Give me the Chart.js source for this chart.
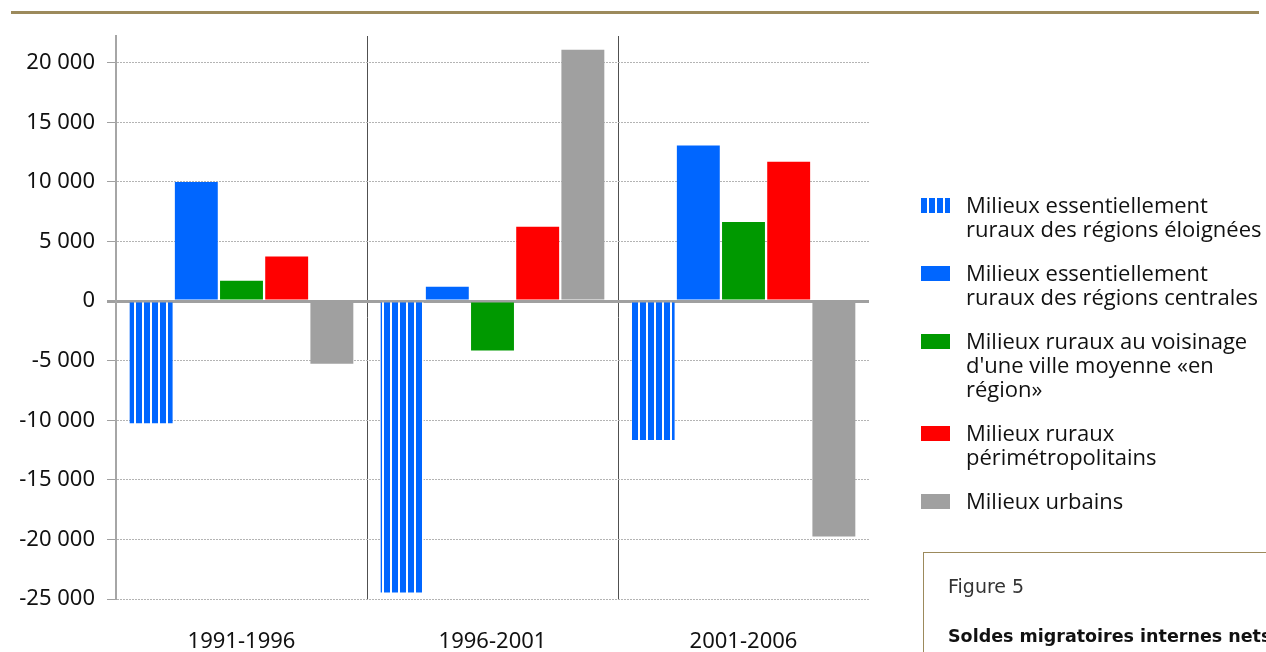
<!DOCTYPE html>
<html>
<head>
<meta charset="utf-8">
<script src="https://cdn.jsdelivr.net/npm/chart.js@4/dist/chart.umd.min.js"></script>
<style>
  html, body { margin: 0; padding: 0; background: #fff; }
  #wrap { position: relative; width: 1266px; height: 652px; overflow: hidden; }
  #topline { position: absolute; left: 11px; top: 11px; width: 1248px; height: 3px; background: #9c8a5c; }
  #chart { position: absolute; left: 0; top: 0; }
  #legend { position: absolute; left: 921px; top: 192px; font-family: "Open Sans", "Noto Sans", sans-serif; font-size: 22px; color: #111; }
  .item { position: relative; padding-left: 45px; line-height: 24px; margin-bottom: 20px; white-space: nowrap; }
  .sw { position: absolute; left: 0; top: 6px; width: 29px; height: 15px; }
  #figbox { position: absolute; left: 923px; top: 552px; width: 400px; height: 200px; border-left: 1px solid #9c8a5c; border-top: 1px solid #9c8a5c; }
  #figbox .num { position: absolute; left: 24px; top: 22px; font-family: "DejaVu Sans", sans-serif; font-size: 19px; color: #333; }
  #figbox .ttl { position: absolute; left: 24px; top: 73px; font-family: "DejaVu Sans", sans-serif; font-weight: bold; font-size: 17.5px; color: #111; white-space: nowrap; }
</style>
</head>
<body>
<div id="wrap">
  <div id="topline"></div>
  <canvas id="chart" width="1266" height="652"></canvas>
  <div id="legend"></div>
  <div id="figbox">
    <div class="num">Figure 5</div>
    <div class="ttl">Soldes migratoires internes nets</div>
  </div>
</div>
<script>
// periods on the x axis
const periods = ["1991-1996", "1996-2001", "2001-2006"];

// series names
const seriesNames = [
  "Milieux essentiellement ruraux des régions éloignées",
  "Milieux essentiellement ruraux des régions centrales",
  "Milieux ruraux au voisinage d'une ville moyenne «en région»",
  "Milieux ruraux périmétropolitains",
  "Milieux urbains"
];
// legend lines as wrapped in the original
const legendLines = [
  ["Milieux essentiellement", "ruraux des régions éloignées"],
  ["Milieux essentiellement", "ruraux des régions centrales"],
  ["Milieux ruraux au voisinage", "d'une ville moyenne «en", "région»"],
  ["Milieux ruraux", "périmétropolitains"],
  ["Milieux urbains"]
];

// net internal migration values, one array per series
const ruralRemote = [-10250, -24450, -11650];
const ruralCentral = [10000, 1200, 13050];
const ruralNearTown = [1700, -4150, 6650];
const ruralPeriMetro = [3750, 6250, 11700];
const urban = [-5250, 21100, -19750];

// y axis ticks
const yTicks = [-25000, -20000, -15000, -10000, -5000, 0, 5000, 10000, 15000, 20000];

const colors = {
  blue: "#0066ff",
  green: "#009900",
  red: "#ff0000",
  grey: "#a0a0a0"
};

// blue with thin white vertical stripes
function stripePattern() {
  const c = document.createElement("canvas");
  c.width = 8; c.height = 8;
  const g = c.getContext("2d");
  g.fillStyle = colors.blue;
  g.fillRect(0, 0, 8, 8);
  g.fillStyle = "#ffffff";
  g.fillRect(6, 0, 2, 8);
  return g.createPattern(c, "repeat");
}

const tickFont = { family: "Noto Sans", size: 22 };

function fmt(v) {
  const s = Math.abs(v).toString().replace(/\B(?=(\d{3})+(?!\d))/g, " ");
  return (v < 0 ? "-" : "") + s;
}

const values = [ruralRemote, ruralCentral, ruralNearTown, ruralPeriMetro, urban];
const fills = [stripePattern(), colors.blue, colors.green, colors.red, colors.grey];

const ctx = document.getElementById("chart").getContext("2d");
new Chart(ctx, {
  type: "bar",
  data: {
    labels: periods,
    datasets: values.map(function(v, i) {
      return {
        label: seriesNames[i],
        data: v,
        backgroundColor: fills[i],
        borderWidth: 0,
        barPercentage: 0.95,
        categoryPercentage: 0.90
      };
    })
  },
  options: {
    responsive: false,
    animation: false,
    layout: { padding: { left: 0, right: 397, top: 36, bottom: 0 } },
    plugins: {
      legend: { display: false },
      tooltip: { enabled: false }
    },
    scales: {
      x: {
        grid: {
          offset: true,
          drawTicks: false,
          color: function(c) {
            return (c.index === 1 || c.index === 2) ? "#505050" : "transparent";
          },
          lineWidth: 1
        },
        border: { display: false },
        ticks: { color: "#111", font: tickFont, padding: 30 },
        afterFit: function(scale) { scale.height = 53; }
      },
      y: {
        min: -25000,
        max: 22250,
        afterBuildTicks: function(scale) {
          scale.ticks = yTicks.map(function(v) { return { value: v }; });
        },
        grid: {
          color: function(c) { return c.tick && c.tick.value === 0 ? "#a0a0a0" : "#b4b4b4"; },
          lineWidth: function(c) { return c.tick && c.tick.value === 0 ? 3 : 1; },
          tickLength: 9,
          tickColor: "#a0a0a0"
        },
        border: {
          color: "#a6a6a6",
          width: 2,
          dash: function(c) { return c.tick && c.tick.value === 0 ? [] : [2, 1]; }
        },
        ticks: {
          color: "#111",
          font: tickFont,
          padding: 12,
          callback: function(v) { return fmt(v); }
        },
        afterFit: function(scale) { scale.width = 116; }
      }
    }
  }
});

// legend built from the series
const legendEl = document.getElementById("legend");
legendLines.forEach(function(lines, i) {
  const item = document.createElement("div");
  item.className = "item";
  item.title = seriesNames[i];
  const sw = document.createElement("div");
  sw.className = "sw";
  sw.style.background = i === 0
    ? "repeating-linear-gradient(90deg, #0066ff 0 6px, #ffffff 6px 8px)"
    : fills[i];
  item.appendChild(sw);
  item.innerHTML += lines.join("<br>");
  legendEl.appendChild(item);
});
</script>
</body>
</html>
